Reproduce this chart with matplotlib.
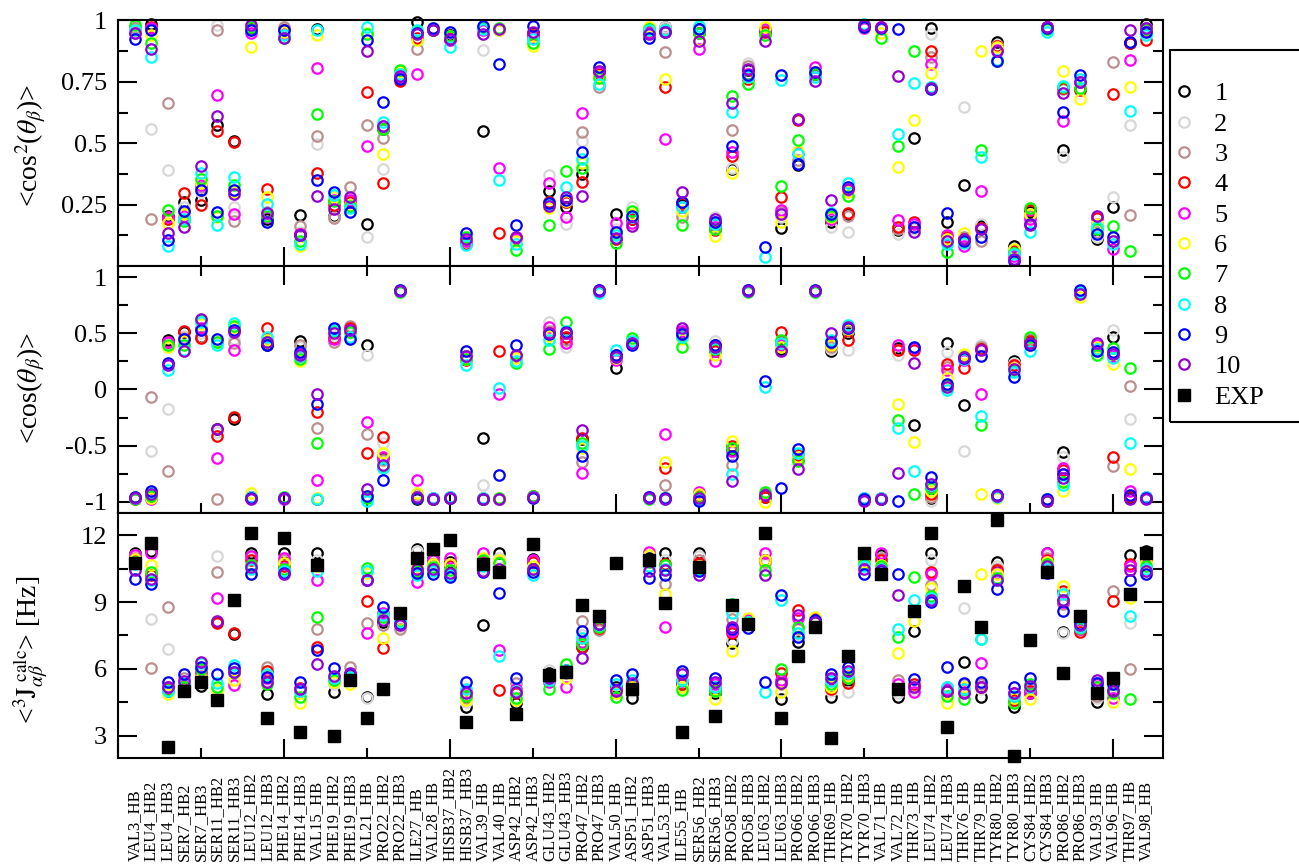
import numpy as np
import matplotlib.pyplot as plt
from matplotlib import transforms
from matplotlib.patches import Rectangle
from matplotlib.ticker import MultipleLocator, FixedLocator

plt.rcParams['font.family'] = ['Liberation Serif', 'DejaVu Serif']
plt.rcParams['mathtext.fontset'] = 'stix'

residues = ['VAL3_HB', 'LEU4_HB2', 'LEU4_HB3', 'SER7_HB2', 'SER7_HB3', 'SER11_HB2',
            'SER11_HB3', 'LEU12_HB2', 'LEU12_HB3', 'PHE14_HB2', 'PHE14_HB3', 'VAL15_HB',
            'PHE19_HB2', 'PHE19_HB3', 'VAL21_HB', 'PRO22_HB2', 'PRO22_HB3', 'ILE27_HB',
            'VAL28_HB', 'HISB37_HB2', 'HISB37_HB3', 'VAL39_HB', 'VAL40_HB', 'ASP42_HB2',
            'ASP42_HB3', 'GLU43_HB2', 'GLU43_HB3', 'PRO47_HB2', 'PRO47_HB3', 'VAL50_HB',
            'ASP51_HB2', 'ASP51_HB3', 'VAL53_HB', 'ILE55_HB', 'SER56_HB2', 'SER56_HB3',
            'PRO58_HB2', 'PRO58_HB3', 'LEU63_HB2', 'LEU63_HB3', 'PRO66_HB2', 'PRO66_HB3',
            'THR69_HB', 'TYR70_HB2', 'TYR70_HB3', 'VAL71_HB', 'VAL72_HB', 'THR73_HB',
            'LEU74_HB2', 'LEU74_HB3', 'THR76_HB', 'THR79_HB', 'TYR80_HB2', 'TYR80_HB3',
            'CYS84_HB2', 'CYS84_HB3', 'PRO86_HB2', 'PRO86_HB3', 'VAL93_HB', 'VAL96_HB',
            'THR97_HB', 'VAL98_HB']

models = ['1', '2', '3', '4', '5', '6', '7', '8', '9', '10']
colors = ['black', '#d8d8d8', '#bc8f8f', 'red', 'magenta', 'yellow',
          '#00ff00', 'cyan', 'blue', '#9400d3']

# <cos^2(theta_beta)>, one row per residue, one column per model
cos2 = [
    [0.97, 0.97, 0.97, 0.96, 0.95, 0.96, 0.98, 0.96, 0.925, 0.95],
    [0.985, 0.56, 0.19, 0.975, 0.97, 0.94, 0.91, 0.85, 0.96, 0.885],
    [0.205, 0.39, 0.665, 0.19, 0.20, 0.175, 0.23, 0.083, 0.106, 0.135],
    [0.262, 0.24, 0.22, 0.296, 0.205, 0.21, 0.185, 0.19, 0.226, 0.158],
    [0.27, 0.30, 0.32, 0.25, 0.33, 0.34, 0.355, 0.38, 0.31, 0.406],
    [0.576, 0.98, 0.96, 0.549, 0.697, 0.20, 0.205, 0.167, 0.221, 0.61],
    [0.51, 0.24, 0.185, 0.505, 0.21, 0.30, 0.33, 0.364, 0.31, 0.293],
    [0.97, 0.97, 0.97, 0.97, 0.95, 0.89, 0.975, 0.96, 0.96, 0.98],
    [0.19, 0.21, 0.22, 0.314, 0.20, 0.28, 0.205, 0.253, 0.178, 0.215],
    [0.965, 0.97, 0.975, 0.96, 0.95, 0.955, 0.93, 0.94, 0.96, 0.93],
    [0.208, 0.14, 0.164, 0.13, 0.13, 0.08, 0.103, 0.09, 0.125, 0.128],
    [0.966, 0.497, 0.53, 0.38, 0.807, 0.94, 0.62, 0.96, 0.352, 0.284],
    [0.205, 0.20, 0.195, 0.25, 0.27, 0.28, 0.266, 0.29, 0.303, 0.232],
    [0.24, 0.25, 0.32, 0.26, 0.27, 0.25, 0.246, 0.235, 0.221, 0.28],
    [0.171, 0.12, 0.575, 0.707, 0.488, 0.95, 0.946, 0.973, 0.92, 0.875],
    [0.558, 0.397, 0.52, 0.337, 0.57, 0.457, 0.56, 0.585, 0.667, 0.57],
    [0.79, 0.78, 0.77, 0.755, 0.77, 0.79, 0.80, 0.78, 0.76, 0.775],
    [0.993, 0.95, 0.885, 0.93, 0.78, 0.92, 0.955, 0.96, 0.95, 0.945],
    [0.965, 0.97, 0.965, 0.96, 0.965, 0.97, 0.96, 0.965, 0.97, 0.96],
    [0.94, 0.93, 0.92, 0.93, 0.92, 0.935, 0.935, 0.89, 0.952, 0.925],
    [0.11, 0.12, 0.10, 0.09, 0.10, 0.11, 0.12, 0.085, 0.135, 0.11],
    [0.548, 0.88, 0.97, 0.97, 0.96, 0.97, 0.97, 0.965, 0.976, 0.943],
    [0.965, 0.96, 0.96, 0.133, 0.40, 0.96, 0.97, 0.352, 0.823, 0.967],
    [0.105, 0.12, 0.12, 0.115, 0.11, 0.10, 0.065, 0.09, 0.168, 0.117],
    [0.95, 0.94, 0.93, 0.94, 0.93, 0.895, 0.91, 0.925, 0.976, 0.955],
    [0.305, 0.372, 0.26, 0.26, 0.34, 0.235, 0.167, 0.25, 0.256, 0.245],
    [0.242, 0.17, 0.26, 0.26, 0.20, 0.265, 0.389, 0.32, 0.27, 0.28],
    [0.375, 0.51, 0.545, 0.344, 0.624, 0.42, 0.40, 0.435, 0.466, 0.285],
    [0.79, 0.78, 0.73, 0.783, 0.79, 0.775, 0.766, 0.742, 0.81, 0.793],
    [0.212, 0.15, 0.14, 0.11, 0.174, 0.13, 0.092, 0.125, 0.137, 0.115],
    [0.19, 0.24, 0.20, 0.19, 0.175, 0.21, 0.226, 0.20, 0.205, 0.164],
    [0.97, 0.96, 0.96, 0.955, 0.95, 0.975, 0.965, 0.96, 0.93, 0.945],
    [0.973, 0.975, 0.87, 0.728, 0.518, 0.76, 0.96, 0.963, 0.955, 0.953],
    [0.25, 0.21, 0.20, 0.255, 0.24, 0.225, 0.167, 0.24, 0.26, 0.303],
    [0.965, 0.96, 0.95, 0.95, 0.882, 0.92, 0.95, 0.976, 0.966, 0.918],
    [0.17, 0.20, 0.18, 0.145, 0.16, 0.123, 0.15, 0.17, 0.178, 0.19],
    [0.395, 0.40, 0.556, 0.45, 0.463, 0.378, 0.694, 0.626, 0.49, 0.663],
    [0.80, 0.826, 0.815, 0.76, 0.78, 0.77, 0.742, 0.77, 0.776, 0.803],
    [0.96, 0.96, 0.96, 0.955, 0.965, 0.972, 0.94, 0.038, 0.076, 0.916],
    [0.154, 0.20, 0.22, 0.28, 0.23, 0.178, 0.327, 0.758, 0.778, 0.212],
    [0.41, 0.42, 0.43, 0.595, 0.46, 0.47, 0.513, 0.457, 0.416, 0.60],
    [0.78, 0.79, 0.79, 0.78, 0.81, 0.79, 0.78, 0.77, 0.79, 0.755],
    [0.18, 0.158, 0.19, 0.20, 0.19, 0.20, 0.205, 0.215, 0.212, 0.27],
    [0.21, 0.137, 0.205, 0.215, 0.31, 0.30, 0.287, 0.34, 0.32, 0.314],
    [0.975, 0.97, 0.975, 0.98, 0.97, 0.975, 0.98, 0.985, 0.975, 0.98],
    [0.97, 0.97, 0.965, 0.97, 0.975, 0.95, 0.93, 0.97, 0.97, 0.972],
    [0.145, 0.13, 0.15, 0.158, 0.187, 0.405, 0.488, 0.538, 0.966, 0.773],
    [0.52, 0.15, 0.16, 0.178, 0.17, 0.595, 0.874, 0.745, 0.16, 0.137],
    [0.97, 0.946, 0.85, 0.875, 0.823, 0.787, 0.73, 0.73, 0.72, 0.725],
    [0.178, 0.12, 0.11, 0.12, 0.128, 0.11, 0.056, 0.09, 0.215, 0.10],
    [0.332, 0.647, 0.12, 0.11, 0.083, 0.133, 0.10, 0.095, 0.103, 0.11],
    [0.164, 0.17, 0.10, 0.155, 0.304, 0.875, 0.473, 0.446, 0.12, 0.15],
    [0.914, 0.90, 0.895, 0.898, 0.88, 0.89, 0.833, 0.84, 0.835, 0.874],
    [0.08, 0.07, 0.065, 0.06, 0.04, 0.07, 0.055, 0.05, 0.022, 0.03],
    [0.22, 0.21, 0.205, 0.228, 0.19, 0.21, 0.235, 0.137, 0.17, 0.168],
    [0.975, 0.97, 0.97, 0.97, 0.975, 0.97, 0.965, 0.955, 0.97, 0.975],
    [0.473, 0.443, 0.72, 0.725, 0.592, 0.793, 0.73, 0.735, 0.626, 0.704],
    [0.72, 0.72, 0.72, 0.715, 0.75, 0.68, 0.725, 0.76, 0.778, 0.75],
    [0.11, 0.12, 0.14, 0.196, 0.17, 0.17, 0.15, 0.158, 0.13, 0.205],
    [0.24, 0.283, 0.83, 0.70, 0.07, 0.10, 0.162, 0.09, 0.12, 0.10],
    [0.91, 0.576, 0.208, 0.91, 0.84, 0.73, 0.063, 0.633, 0.914, 0.96],
    [0.986, 0.97, 0.97, 0.92, 0.96, 0.965, 0.966, 0.94, 0.955, 0.97],
]

# <cos(theta_beta)>
cos1 = [
    [-0.97, -0.96, -0.97, -0.98, -0.97, -0.96, -0.98, -0.97, -0.96, -0.97],
    [-0.95, -0.548, -0.065, -0.96, -0.98, -0.97, -0.95, -0.92, -0.90, -0.93],
    [0.44, -0.17, -0.73, 0.42, 0.42, 0.38, 0.40, 0.173, 0.232, 0.22],
    [0.515, 0.48, 0.455, 0.52, 0.44, 0.43, 0.40, 0.35, 0.45, 0.34],
    [0.47, 0.50, 0.47, 0.455, 0.55, 0.58, 0.62, 0.60, 0.53, 0.63],
    [-0.35, -0.38, -0.98, -0.414, -0.61, 0.42, 0.42, 0.396, 0.45, -0.355],
    [-0.26, 0.45, 0.41, -0.245, 0.35, 0.56, 0.57, 0.59, 0.53, 0.51],
    [-0.96, -0.97, -0.96, -0.97, -0.96, -0.92, -0.97, -0.96, -0.97, -0.98],
    [0.40, 0.44, 0.45, 0.545, 0.43, 0.44, 0.42, 0.47, 0.396, 0.42],
    [-0.97, -0.96, -0.97, -0.97, -0.98, -0.97, -0.96, -0.97, -0.97, -0.97],
    [0.435, 0.38, 0.40, 0.30, 0.32, 0.25, 0.27, 0.30, 0.336, 0.31],
    [-0.98, -0.97, -0.34, -0.20, -0.81, -0.97, -0.48, -0.98, -0.125, -0.036],
    [0.47, 0.48, 0.425, 0.46, 0.45, 0.50, 0.52, 0.53, 0.545, 0.50],
    [0.52, 0.50, 0.57, 0.55, 0.53, 0.52, 0.51, 0.47, 0.45, 0.53],
    [0.396, 0.31, -0.40, -0.565, -0.29, -0.95, -0.97, -0.99, -0.95, -0.89],
    [-0.62, -0.48, -0.63, -0.42, -0.60, -0.565, -0.69, -0.70, -0.81, -0.675],
    [0.88, 0.885, 0.88, 0.875, 0.88, 0.885, 0.87, 0.875, 0.89, 0.88],
    [-0.98, -0.96, -0.93, -0.96, -0.81, -0.92, -0.97, -0.96, -0.97, -0.96],
    [-0.98, -0.97, -0.98, -0.98, -0.97, -0.98, -0.98, -0.97, -0.98, -0.98],
    [-0.97, -0.96, -0.97, -0.97, -0.96, -0.97, -0.97, -0.96, -0.97, -0.97],
    [0.30, 0.30, 0.28, 0.26, 0.28, 0.27, 0.27, 0.217, 0.342, 0.30],
    [-0.43, -0.85, -0.97, -0.98, -0.97, -0.97, -0.98, -0.97, -0.98, -0.98],
    [-0.98, -0.98, -0.98, 0.34, -0.036, -0.97, -0.97, 0.015, -0.765, -0.98],
    [0.30, 0.31, 0.30, 0.29, 0.30, 0.28, 0.232, 0.25, 0.396, 0.307],
    [-0.96, -0.97, -0.96, -0.95, -0.96, -0.97, -0.95, -0.96, -0.97, -0.96],
    [0.51, 0.60, 0.52, 0.50, 0.56, 0.48, 0.36, 0.44, 0.49, 0.50],
    [0.455, 0.38, 0.44, 0.47, 0.41, 0.50, 0.598, 0.52, 0.51, 0.50],
    [-0.44, -0.50, -0.646, -0.43, -0.74, -0.52, -0.48, -0.50, -0.59, -0.363],
    [0.88, 0.88, 0.875, 0.88, 0.885, 0.88, 0.875, 0.86, 0.885, 0.88],
    [0.19, 0.27, 0.29, 0.31, 0.26, 0.28, 0.29, 0.35, 0.31, 0.29],
    [0.42, 0.43, 0.41, 0.42, 0.42, 0.43, 0.46, 0.43, 0.40, 0.41],
    [-0.97, -0.96, -0.97, -0.97, -0.96, -0.97, -0.98, -0.97, -0.96, -0.97],
    [-0.97, -0.96, -0.85, -0.70, -0.40, -0.646, -0.97, -0.98, -0.97, -0.98],
    [0.50, 0.49, 0.48, 0.47, 0.52, 0.45, 0.38, 0.47, 0.49, 0.545],
    [-0.96, -0.95, -0.96, -0.95, -0.91, -0.93, -0.96, -0.98, -0.99, -0.97],
    [0.40, 0.43, 0.35, 0.34, 0.256, 0.31, 0.36, 0.37, 0.396, 0.38],
    [-0.54, -0.56, -0.675, -0.50, -0.55, -0.46, -0.52, -0.75, -0.59, -0.815],
    [0.88, 0.885, 0.875, 0.88, 0.885, 0.88, 0.87, 0.875, 0.89, 0.88],
    [-0.96, -0.95, -0.95, -0.96, -0.93, -1.00, -0.91, 0.024, 0.077, -0.94],
    [0.36, 0.40, 0.42, 0.51, 0.40, 0.38, 0.44, 0.41, -0.875, 0.34],
    [-0.62, -0.60, -0.63, -0.58, -0.62, -0.60, -0.64, -0.57, -0.53, -0.71],
    [0.88, 0.885, 0.88, 0.875, 0.88, 0.885, 0.87, 0.875, 0.89, 0.88],
    [0.342, 0.36, 0.38, 0.40, 0.41, 0.40, 0.42, 0.44, 0.425, 0.50],
    [0.50, 0.35, 0.52, 0.44, 0.55, 0.54, 0.545, 0.574, 0.55, 0.56],
    [-0.98, -0.97, -0.98, -0.98, -0.97, -0.98, -0.98, -0.97, -0.98, -0.99],
    [-0.98, -0.97, -0.98, -0.97, -0.98, -0.98, -0.98, -0.97, -0.98, -0.98],
    [0.37, 0.31, 0.35, 0.35, 0.40, -0.13, -0.27, -0.34, -0.99, -0.744],
    [-0.32, 0.36, 0.37, 0.35, 0.37, -0.47, -0.93, -0.73, 0.38, 0.238],
    [-0.97, -0.99, -0.96, -0.93, -0.87, -0.90, -0.88, -0.85, -0.78, -0.84],
    [0.41, 0.336, 0.20, 0.223, 0.17, 0.10, 0.04, -0.006, 0.05, 0.02],
    [-0.134, -0.55, 0.30, 0.188, 0.26, 0.32, 0.29, 0.27, 0.28, 0.29],
    [0.37, 0.40, 0.38, 0.36, -0.036, -0.93, -0.32, -0.235, 0.298, 0.35],
    [-0.95, -0.96, -0.94, -0.95, -0.96, -0.97, -0.95, -0.96, -0.94, -0.95],
    [0.256, 0.24, 0.22, 0.215, 0.19, 0.19, 0.17, 0.16, 0.113, 0.18],
    [0.42, 0.44, 0.45, 0.43, 0.40, 0.40, 0.47, 0.342, 0.40, 0.41],
    [-0.99, -0.98, -0.98, -0.99, -0.98, -0.98, -0.99, -0.98, -0.98, -0.99],
    [-0.56, -0.60, -0.75, -0.72, -0.70, -0.90, -0.82, -0.85, -0.75, -0.79],
    [0.86, 0.87, 0.86, 0.86, 0.87, 0.82, 0.86, 0.87, 0.887, 0.85],
    [0.36, 0.37, 0.38, 0.36, 0.40, 0.38, 0.307, 0.36, 0.34, 0.417],
    [0.47, 0.53, -0.68, -0.60, 0.30, 0.23, 0.37, 0.28, 0.33, 0.32],
    [-0.97, -0.26, 0.033, -0.95, -0.90, -0.71, 0.193, -0.48, -0.94, -0.98],
    [-0.97, -0.96, -0.97, -0.97, -0.96, -0.97, -0.97, -0.96, -0.97, -0.98],
]

# calculated 3J(alpha,beta) couplings in Hz
jcalc = [
    [11.22, 11.1, 11.0, 10.9, 11.1, 10.95, 10.8, 10.7, 10.03, 10.43],
    [11.3, 8.23, 6.02, 10.2, 11.22, 10.68, 10.36, 10.0, 9.83, 10.05],
    [5.0, 6.89, 8.76, 5.1, 5.2, 4.87, 5.05, 5.0, 5.42, 5.2],
    [5.1, 5.3, 5.57, 5.2, 5.3, 5.0, 5.2, 5.35, 5.77, 5.45],
    [5.23, 5.5, 5.7, 5.85, 5.9, 5.6, 6.0, 6.27, 6.1, 6.32],
    [8.1, 11.07, 10.36, 8.07, 9.19, 5.05, 5.2, 5.35, 5.77, 8.15],
    [7.55, 6.0, 5.8, 7.62, 5.27, 5.5, 5.85, 6.17, 6.02, 5.85],
    [11.18, 11.0, 11.05, 10.9, 11.08, 10.25, 10.65, 10.5, 10.28, 10.58],
    [4.86, 5.5, 6.07, 5.9, 5.6, 5.7, 5.3, 5.75, 5.65, 5.4],
    [11.2, 11.0, 10.9, 10.6, 10.98, 10.75, 10.5, 10.4, 10.3, 10.28],
    [5.0, 5.05, 5.1, 5.15, 5.1, 4.45, 4.75, 5.0, 5.42, 5.1],
    [11.18, 10.9, 7.81, 7.0, 10.01, 10.6, 8.31, 10.4, 6.85, 6.2],
    [4.94, 5.3, 5.5, 5.6, 5.55, 5.4, 5.5, 5.6, 6.05, 5.7],
    [5.6, 5.8, 6.07, 5.7, 5.55, 5.3, 5.6, 5.65, 5.75, 5.8],
    [4.75, 4.7, 8.07, 9.06, 7.62, 10.3, 10.55, 10.4, 10.0, 10.01],
    [8.1, 8.3, 7.96, 6.92, 8.5, 7.37, 8.35, 8.4, 8.79, 8.19],
    [8.0, 7.9, 7.81, 8.0, 8.1, 8.2, 8.15, 8.1, 8.0, 7.95],
    [11.4, 11.3, 10.8, 10.5, 9.9, 10.6, 10.4, 10.2, 10.3, 10.5],
    [11.0, 10.8, 10.9, 10.7, 10.9, 10.7, 10.58, 10.4, 10.28, 10.5],
    [10.8, 10.7, 10.7, 10.6, 11.0, 10.7, 10.45, 10.2, 10.13, 10.3],
    [4.3, 4.5, 4.7, 4.8, 5.0, 4.6, 4.8, 5.1, 5.42, 4.93],
    [7.96, 10.5, 10.7, 10.8, 11.18, 11.0, 10.9, 10.6, 10.35, 10.4],
    [11.2, 11.0, 10.8, 5.05, 6.84, 10.9, 10.75, 6.57, 9.41, 10.5],
    [4.45, 4.6, 5.35, 4.9, 5.1, 4.6, 4.7, 5.0, 5.57, 4.95],
    [10.95, 10.85, 10.8, 10.8, 10.9, 10.6, 10.5, 10.2, 10.36, 10.5],
    [5.8, 5.95, 5.6, 5.5, 5.4, 5.6, 5.08, 5.5, 5.65, 5.6],
    [5.95, 5.8, 5.8, 5.9, 5.2, 5.6, 6.2, 5.95, 5.85, 5.9],
    [7.0, 7.5, 8.14, 7.0, 7.2, 7.4, 7.1, 7.4, 7.71, 6.47],
    [7.9, 7.8, 7.74, 7.85, 7.9, 7.95, 7.9, 7.95, 8.0, 8.0],
    [5.2, 5.0, 5.1, 5.0, 5.05, 4.9, 4.72, 5.3, 5.5, 5.0],
    [4.71, 5.0, 5.2, 5.3, 5.25, 5.2, 5.3, 5.5, 5.75, 5.35],
    [11.0, 10.9, 10.8, 10.9, 11.25, 11.1, 10.8, 10.6, 10.09, 10.4],
    [11.18, 10.9, 9.83, 10.7, 7.89, 9.38, 10.65, 10.5, 10.2, 10.45],
    [5.3, 5.2, 5.3, 5.3, 5.45, 5.2, 5.05, 5.5, 5.9, 5.75],
    [11.2, 11.05, 10.9, 10.75, 10.6, 10.6, 10.5, 10.45, 10.4, 10.2],
    [4.9, 5.0, 5.2, 5.1, 5.3, 4.67, 5.0, 5.2, 5.57, 5.4],
    [7.14, 7.3, 8.22, 7.6, 7.7, 6.8, 8.9, 8.5, 7.81, 7.9],
    [8.1, 8.2, 8.1, 8.0, 8.2, 8.3, 8.1, 8.1, 7.85, 8.0],
    [10.9, 10.7, 10.8, 10.9, 11.18, 10.88, 10.45, 4.94, 5.4, 10.2],
    [4.65, 5.0, 5.3, 5.8, 5.5, 4.97, 5.98, 9.1, 9.31, 5.35],
    [7.22, 7.5, 7.8, 8.64, 8.3, 7.6, 7.89, 7.6, 7.44, 8.4],
    [8.1, 8.2, 8.2, 8.3, 8.2, 8.35, 8.1, 8.15, 8.2, 8.1],
    [4.72, 5.0, 5.2, 5.1, 5.5, 5.2, 5.3, 5.45, 5.75, 5.6],
    [5.5, 4.97, 5.6, 5.38, 5.7, 5.7, 5.6, 5.8, 6.1, 5.9],
    [11.1, 11.0, 11.0, 10.9, 10.9, 10.8, 10.7, 10.6, 10.28, 10.5],
    [11.1, 11.0, 11.0, 10.88, 11.18, 10.65, 10.6, 10.5, 10.4, 10.45],
    [4.72, 4.9, 5.5, 5.1, 5.3, 6.72, 7.41, 7.77, 10.25, 9.31],
    [7.7, 5.1, 5.2, 5.3, 4.97, 8.16, 10.13, 9.11, 5.53, 5.2],
    [11.2, 10.88, 9.76, 10.36, 10.25, 9.65, 9.27, 9.2, 9.01, 9.11],
    [5.0, 5.1, 5.2, 5.0, 5.1, 4.45, 4.8, 5.2, 6.1, 5.0],
    [6.32, 8.74, 5.3, 5.1, 4.97, 5.2, 4.67, 5.1, 5.38, 4.9],
    [4.75, 5.1, 5.3, 5.2, 6.27, 10.24, 7.35, 7.32, 5.42, 5.2],
    [10.8, 10.6, 10.5, 10.46, 10.3, 10.28, 10.1, 10.0, 9.58, 9.98],
    [4.3, 4.5, 4.6, 4.6, 4.9, 4.7, 4.45, 4.8, 5.2, 4.9],
    [4.9, 5.0, 5.1, 5.0, 4.9, 4.67, 5.3, 5.2, 5.6, 5.25],
    [11.2, 11.1, 11.0, 10.9, 11.18, 10.8, 10.7, 10.5, 10.3, 10.6],
    [7.67, 7.6, 8.9, 9.5, 9.0, 9.71, 9.1, 9.35, 8.6, 9.11],
    [7.8, 7.8, 7.85, 7.67, 7.8, 7.9, 7.85, 7.9, 8.0, 7.96],
    [4.5, 4.7, 4.8, 5.2, 5.3, 5.1, 5.2, 5.35, 5.38, 5.5],
    [5.1, 5.2, 9.49, 9.04, 4.7, 4.5, 4.9, 5.3, 5.3, 5.0],
    [11.1, 8.04, 5.98, 10.7, 10.6, 9.2, 4.63, 8.37, 9.98, 10.45],
    [11.3, 11.0, 11.0, 10.9, 11.1, 10.8, 10.6, 10.5, 10.24, 10.4],
]

# experimental couplings
jexp = [10.77, 11.67, 2.51, 5.0, 5.42, 4.6, 9.09, 12.1, 3.78, 11.88,
        3.18, 10.68, 2.99, 5.5, 3.78, 5.08, 8.52, 10.98, 11.4, 11.8,
        3.6, 10.73, 10.36, 3.97, 11.6, 5.72, 5.87, 8.89, 8.37, 10.77,
        5.1, 10.88, 8.98, 3.18, 10.58, 3.88, 8.89, 8.0, 12.1, 3.78,
        6.59, 7.89, 2.88, 6.59, 11.2, 10.28, 5.1, 8.59, 12.1, 3.37,
        9.71, 7.89, 12.67, 2.09, 7.29, 10.36, 5.8, 8.37, 4.9, 5.57,
        9.38, 11.2]

x = np.arange(1, len(residues) + 1)
cos2 = np.array(cos2)
cos1 = np.array(cos1)
jcalc = np.array(jcalc)

fig = plt.figure(figsize=(12.99, 8.64), dpi=100)
L, W = 0.0908, 0.8045
ax1 = fig.add_axes([L, 0.6921, W, 0.2842])
ax2 = fig.add_axes([L, 0.4063, W, 0.2858])
ax3 = fig.add_axes([L, 0.1227, W, 0.2836])

TICK_FS = 19
handles = []
for ax, data in [(ax1, cos2), (ax2, cos1), (ax3, jcalc)]:
    for m in range(10):
        h, = ax.plot(x, data[:, m], 'o', mfc='none', mec=colors[m], ms=7.5,
                     mew=1.6, clip_on=False, label=models[m])
        if ax is ax1:
            handles.append(h)
hexp, = ax3.plot(x, jexp, 's', color='black', ms=8, clip_on=False, label='EXP')
handles.append(hexp)

for ax in (ax1, ax2, ax3):
    ax.set_xlim(0, 63)
    ax.xaxis.set_major_locator(MultipleLocator(10))
    ax.xaxis.set_minor_locator(MultipleLocator(5))
    ax.tick_params(which='both', direction='in', width=1.5, right=True,
                   labelbottom=False, labelsize=TICK_FS, pad=8)
    ax.tick_params(which='major', length=14)
    ax.tick_params(which='minor', length=7)
    for s in ax.spines.values():
        s.set_linewidth(1.5)

ax2.tick_params(axis='x', which='both', top=True)

ax1.set_ylim(0, 1)
ax1.yaxis.set_major_locator(FixedLocator([0.25, 0.5, 0.75, 1.0]))
ax1.yaxis.set_minor_locator(FixedLocator([0.125, 0.375, 0.625, 0.875]))
ax1.set_yticklabels(['0.25', '0.5', '0.75', '1'])

ax2.set_ylim(-1.1, 1.1)
ax2.yaxis.set_major_locator(FixedLocator([-1, -0.5, 0, 0.5, 1]))
ax2.yaxis.set_minor_locator(FixedLocator([-0.75, -0.25, 0.25, 0.75]))
ax2.set_yticklabels(['-1', '-0.5', '0', '0.5', '1'])

ax3.set_ylim(2, 13)
ax3.yaxis.set_major_locator(FixedLocator([3, 6, 9, 12]))
ax3.yaxis.set_minor_locator(FixedLocator([4.5, 7.5, 10.5]))
ax3.set_yticklabels(['3', '6', '9', '12'])

# y axis titles
fig.text(0.024, 1 - 145 / 864, r'<cos$^2$($\theta_\beta$)>', rotation=90,
         ha='center', va='center', fontsize=20)
fig.text(0.024, 1 - 388 / 864, r'<cos($\theta_\beta$)>', rotation=90,
         ha='center', va='center', fontsize=20)
fig.text(0.024, 1 - 650 / 864,
         r'<$^3\mathrm{J}_{\alpha\beta}^{\ \mathrm{calc}}$> [Hz]', rotation=90,
         ha='center', va='center', fontsize=20)

# residue names read upward from the bottom edge
trans = transforms.blended_transform_factory(ax3.transData, fig.transFigure)
for xi, name in zip(x, residues):
    ax3.text(xi, 0.004, name, transform=trans, rotation=90, ha='center',
             va='bottom', fontsize=12, clip_on=False)

fig.legend(handles, [h.get_label() for h in handles], loc='upper left',
           bbox_to_anchor=(1172 / 1299, 1 - 82 / 864), frameon=False,
           fontsize=19, handlelength=0.9, handletextpad=0.7, labelspacing=0.26,
           borderaxespad=0, borderpad=0)
fig.add_artist(Rectangle((1170 / 1299, 1 - 422 / 864), 0.2, 372 / 864,
                         transform=fig.transFigure, fill=False, lw=1.5,
                         ec='black', clip_on=False))

fig.savefig('out.png', dpi=100)
